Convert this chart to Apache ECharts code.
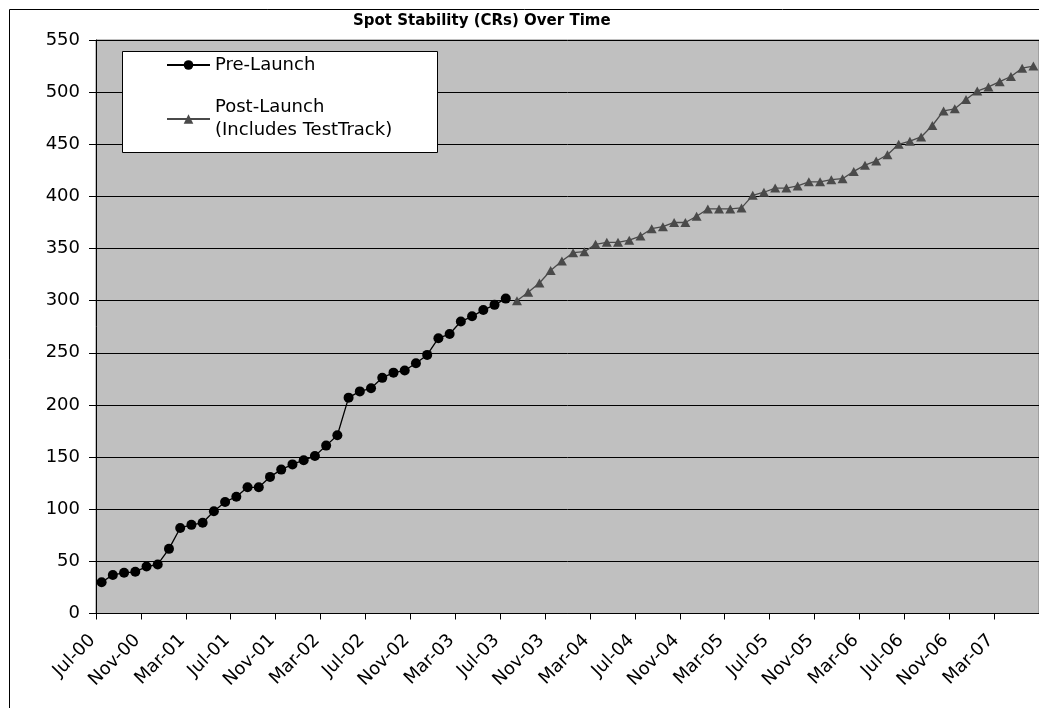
<!DOCTYPE html>
<html>
<head>
<meta charset="utf-8">
<script src="https://cdn.jsdelivr.net/npm/echarts@6/dist/echarts.min.js"></script>
<style>html,body{margin:0;padding:0;background:#fff;}#c{width:1039px;height:708px;}</style>
</head>
<body>
<div id="c"></div>
<script>
// Monthly categories Jul-00 .. Jun-07
const categories = [
  'Jul-00','Aug-00','Sep-00','Oct-00','Nov-00','Dec-00',
  'Jan-01','Feb-01','Mar-01','Apr-01','May-01','Jun-01','Jul-01','Aug-01','Sep-01','Oct-01','Nov-01','Dec-01',
  'Jan-02','Feb-02','Mar-02','Apr-02','May-02','Jun-02','Jul-02','Aug-02','Sep-02','Oct-02','Nov-02','Dec-02',
  'Jan-03','Feb-03','Mar-03','Apr-03','May-03','Jun-03','Jul-03','Aug-03','Sep-03','Oct-03','Nov-03','Dec-03',
  'Jan-04','Feb-04','Mar-04','Apr-04','May-04','Jun-04','Jul-04','Aug-04','Sep-04','Oct-04','Nov-04','Dec-04',
  'Jan-05','Feb-05','Mar-05','Apr-05','May-05','Jun-05','Jul-05','Aug-05','Sep-05','Oct-05','Nov-05','Dec-05',
  'Jan-06','Feb-06','Mar-06','Apr-06','May-06','Jun-06','Jul-06','Aug-06','Sep-06','Oct-06','Nov-06','Dec-06',
  'Jan-07','Feb-07','Mar-07','Apr-07','May-07','Jun-07'
];

// Pre-Launch values (Jul-00 .. Jul-03)
const preLaunch = [
  30, 37, 39, 40, 45, 47, 62, 82, 85, 87,
  98, 107, 112, 121, 121, 131, 138, 143, 147, 151,
  161, 171, 207, 213, 216, 226, 231, 233, 240, 248,
  264, 268, 280, 285, 291, 296, 302
];

// Post-Launch values (Aug-03 .. Jun-07)
const postLaunch = [
  300, 308, 317, 329, 338, 346, 347, 354, 356, 356,
  358, 362, 369, 371, 375, 375, 381, 388, 388, 388,
  389, 401, 404, 408, 408, 410, 414, 414, 416, 417,
  424, 430, 434, 440, 450, 453, 457, 468, 482, 484,
  493, 501, 505, 510, 515, 523, 525
];

const seriesNames = ['Pre-Launch', 'Post-Launch\n(Includes TestTrack)'];
const titleText = 'Spot Stability (CRs) Over Time';

const preData = categories.map((c, i) => i < preLaunch.length ? preLaunch[i] : null);
const postOffset = categories.length - postLaunch.length;
const postData = categories.map((c, i) => i >= postOffset ? postLaunch[i - postOffset] : null);

const FONT = 'DejaVu Sans';
const chart = echarts.init(document.getElementById('c'), null, {renderer: 'canvas'});
chart.setOption({
  animation: false,
  backgroundColor: '#ffffff',
  title: {
    text: titleText,
    left: 353,
    top: 14,
    padding: 0,
    textStyle: {fontFamily: FONT, fontSize: 15, fontWeight: 'bold', color: '#000'}
  },
  graphic: [
    {type: 'rect', left: 7, top: 7, z: 0, silent: true,
     shape: {width: 1100, height: 800},
     style: {fill: 'none', stroke: '#000', lineWidth: 1}},
    {type: 'rect', left: 122, top: 51, z: 50, silent: true,
     shape: {width: 315, height: 101},
     style: {fill: '#ffffff', stroke: '#000', lineWidth: 1}}
  ],
  legend: {
    orient: 'vertical',
    left: 166,
    top: 53.5,
    padding: 0,
    itemWidth: 43,
    itemHeight: 12,
    itemGap: 19.5,
    z: 60,
    textStyle: {fontFamily: FONT, fontSize: 18, color: '#000', lineHeight: 23},
    data: [
      {name: seriesNames[0]},
      {name: seriesNames[1]}
    ]
  },
  grid: {
    left: 96, top: 40, right: -9, bottom: 94.5,
    show: true, backgroundColor: '#C0C0C0', borderColor: '#808080', borderWidth: 1
  },
  xAxis: {
    type: 'category',
    data: categories,
    boundaryGap: true,
    axisLine: {lineStyle: {color: '#000', width: 1}},
    axisTick: {show: true, interval: 3, length: 6, lineStyle: {color: '#000'}},
    axisLabel: {
      interval: 3, rotate: 45, margin: 15,
      fontFamily: FONT, fontSize: 18, color: '#000',
      padding: [0, 13, 0, 0]
    },
    splitLine: {show: false}
  },
  yAxis: {
    type: 'value',
    min: 0, max: 550, interval: 50,
    axisLine: {show: true, lineStyle: {color: '#000', width: 1}},
    axisTick: {show: true, length: 7, lineStyle: {color: '#000'}},
    axisLabel: {margin: 16, fontFamily: FONT, fontSize: 18, color: '#000'},
    splitLine: {show: true, lineStyle: {color: '#000', width: 1}}
  },
  series: [
    {
      name: seriesNames[0],
      type: 'line',
      data: preData,
      symbol: 'circle',
      symbolSize: 10,
      showAllSymbol: true,
      connectNulls: false,
      itemStyle: {color: '#000'},
      lineStyle: {color: '#000', width: 1.3},
      z: 3
    },
    {
      name: seriesNames[1],
      type: 'line',
      data: postData,
      symbol: 'triangle',
      symbolSize: [10, 9],
      showAllSymbol: true,
      connectNulls: false,
      itemStyle: {color: '#4a4a4a'},
      lineStyle: {color: '#4a4a4a', width: 1.3},
      z: 3
    }
  ]
});
</script>
</body>
</html>
